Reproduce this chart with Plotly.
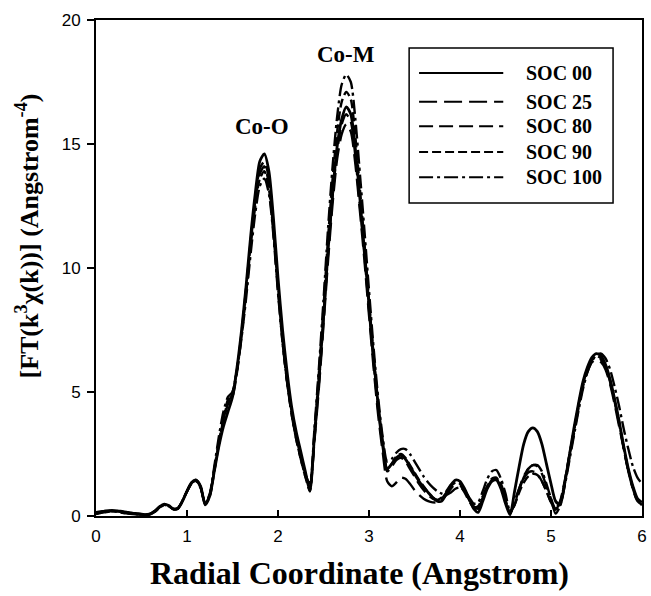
import plotly.graph_objects as go

# Radial coordinate grid (Angstrom), step 0.05
R = [round(i * 0.05, 2) for i in range(121)]

series_names = ["SOC 00", "SOC 25", "SOC 80", "SOC 90", "SOC 100"]

soc00 = [0.10,0.15,0.20,0.22,0.22,0.20,0.18,0.15,0.12,0.10,
         0.08,0.05,0.08,0.20,0.38,0.48,0.42,0.28,0.30,0.60,
         1.00,1.35,1.45,1.20,0.45,0.80,1.80,2.80,3.60,4.20,
         4.80,6.00,7.50,9.30,11.30,13.00,14.30,14.60,13.90,12.00,
         9.60,7.50,5.80,4.40,3.40,2.60,1.80,1.00,3.20,5.50,
         8.00,10.70,13.00,14.90,16.00,16.50,16.20,14.80,12.80,10.70,
         8.50,6.40,4.50,3.00,1.90,2.10,2.35,2.45,2.30,2.00,
         1.70,1.40,1.15,0.95,0.75,0.60,0.60,0.90,1.25,1.45,
         1.40,1.10,0.70,0.30,0.15,0.60,1.10,1.40,1.45,1.10,
         0.50,0.05,1.00,2.00,2.90,3.40,3.55,3.40,2.90,2.10,
         1.30,0.60,0.45,1.30,2.40,3.50,4.50,5.40,6.00,6.40,
         6.55,6.45,6.10,5.50,4.70,3.80,2.80,1.90,1.20,0.70,
         0.55]

soc25 = [0.15,0.18,0.20,0.20,0.18,0.15,0.12,0.10,0.08,0.06,
         0.05,0.05,0.10,0.22,0.38,0.45,0.40,0.28,0.32,0.62,
         1.00,1.32,1.42,1.15,0.50,0.85,1.90,3.00,3.90,4.60,
         4.90,5.90,7.40,9.20,11.10,12.80,14.00,14.30,13.60,11.70,
         9.30,7.20,5.50,4.20,3.20,2.40,1.70,1.10,3.00,5.20,
         7.70,10.30,12.60,14.40,15.40,15.80,15.50,14.20,12.30,10.30,
         8.10,6.00,4.10,2.60,1.40,1.20,1.35,1.55,1.50,1.30,
         1.05,0.85,0.70,0.60,0.55,0.55,0.65,0.85,1.10,1.30,
         1.30,1.05,0.70,0.40,0.30,0.70,1.15,1.45,1.55,1.30,
         0.70,0.10,0.50,1.10,1.60,1.90,2.05,2.00,1.70,1.20,
         0.70,0.30,0.50,1.30,2.30,3.30,4.30,5.20,5.80,6.20,
         6.30,6.20,5.90,5.30,4.50,3.60,2.70,1.80,1.10,0.60,
         0.45]

soc80 = [0.12,0.15,0.18,0.20,0.20,0.18,0.15,0.12,0.10,0.08,
         0.06,0.05,0.08,0.18,0.35,0.45,0.40,0.28,0.30,0.60,
         1.00,1.35,1.45,1.18,0.50,0.85,1.85,2.90,3.80,4.50,
         4.80,5.80,7.30,9.10,11.00,12.70,13.80,14.10,13.40,11.50,
         9.20,7.10,5.40,4.10,3.10,2.30,1.60,1.20,3.10,5.40,
         7.90,10.60,12.90,14.70,15.80,16.20,15.90,14.50,12.50,10.50,
         8.30,6.20,4.30,2.80,1.80,2.00,2.25,2.35,2.20,1.90,
         1.60,1.30,1.05,0.85,0.70,0.65,0.75,1.00,1.25,1.35,
         1.25,0.95,0.60,0.35,0.40,0.80,1.20,1.45,1.50,1.15,
         0.60,0.10,0.60,1.10,1.50,1.75,1.80,1.70,1.40,1.00,
         0.55,0.30,0.60,1.40,2.40,3.40,4.40,5.30,5.90,6.30,
         6.40,6.30,6.00,5.40,4.60,3.70,2.70,1.80,1.10,0.60,
         0.45]

soc90 = [0.10,0.14,0.18,0.20,0.20,0.18,0.16,0.13,0.10,0.08,
         0.06,0.06,0.10,0.20,0.36,0.46,0.40,0.28,0.30,0.60,
         1.00,1.33,1.43,1.15,0.48,0.80,1.80,2.90,3.90,4.70,
         5.00,5.90,7.30,9.00,10.90,12.50,13.60,13.90,13.20,11.40,
         9.10,7.00,5.40,4.10,3.10,2.30,1.60,1.00,3.30,5.80,
         8.40,11.20,13.60,15.50,16.70,17.10,16.80,15.30,13.20,11.00,
         8.70,6.50,4.50,2.90,1.90,2.10,2.40,2.50,2.35,2.05,
         1.75,1.45,1.20,0.95,0.75,0.65,0.70,0.95,1.20,1.35,
         1.30,1.00,0.65,0.35,0.30,0.75,1.20,1.50,1.55,1.20,
         0.65,0.10,0.45,0.95,1.35,1.60,1.70,1.65,1.40,1.00,
         0.55,0.25,0.55,1.35,2.40,3.40,4.40,5.30,5.90,6.30,
         6.45,6.35,6.05,5.45,4.65,3.75,2.75,1.85,1.15,0.65,
         0.50]

soc100 = [0.08,0.12,0.15,0.18,0.18,0.16,0.14,0.12,0.10,0.08,
          0.06,0.05,0.08,0.18,0.34,0.44,0.40,0.30,0.32,0.62,
          1.00,1.30,1.40,1.12,0.50,0.90,2.00,3.20,4.20,4.80,
          5.00,5.90,7.20,8.80,10.60,12.20,13.30,13.60,13.00,11.30,
          9.00,7.00,5.40,4.20,3.20,2.40,1.70,1.30,3.50,6.00,
          8.70,11.60,14.10,16.10,17.40,17.80,17.50,16.00,13.80,11.50,
          9.10,6.80,4.80,3.20,2.20,2.30,2.55,2.70,2.70,2.50,
          2.20,1.90,1.60,1.35,1.15,1.00,0.90,0.85,0.95,1.10,
          1.15,1.00,0.75,0.50,0.55,1.00,1.50,1.80,1.85,1.50,
          0.90,0.20,0.45,1.05,1.55,1.90,2.05,2.05,1.80,1.30,
          0.70,0.10,0.40,1.20,2.20,3.20,4.20,5.10,5.80,6.25,
          6.50,6.55,6.35,5.90,5.20,4.40,3.50,2.70,2.00,1.55,
          1.30]

all_series = [soc00, soc25, soc80, soc90, soc100]
dashes = ["solid", "18px,7px", "14px,6px", "9px,4px", "14px,4px,3px,4px"]
widths = [2.8, 2.4, 2.4, 2.4, 2.4]

x_ticks = [0, 1, 2, 3, 4, 5, 6]
y_ticks = [0, 5, 10, 15, 20]

peak_labels = [("Co-O", 1.82, 15.7), ("Co-M", 2.75, 18.6)]

fig = go.Figure()
for name, ys, d, w in zip(series_names, all_series, dashes, widths):
    fig.add_trace(go.Scatter(x=R, y=ys, mode="lines", name=name,
                             line=dict(color="black", width=w, dash=d,
                                       shape="spline", smoothing=0.7),
                             showlegend=False))

serif = "Liberation Serif, Times New Roman, serif"
sans = "Liberation Sans, Arial, Helvetica, sans-serif"

fig.update_layout(
    width=651, height=596,
    margin=dict(l=96, r=4, t=20, b=80),
    paper_bgcolor="white", plot_bgcolor="white",
    xaxis=dict(range=[0, 6], tickvals=x_ticks, ticks="inside", ticklen=6,
               tickwidth=1.5, tickcolor="black", showline=True, linecolor="black",
               linewidth=2, mirror=True, showgrid=False, zeroline=False,
               ticklabelstandoff=4,
               tickfont=dict(family=sans, size=17, color="black")),
    yaxis=dict(range=[0, 20], tickvals=y_ticks, ticks="outside", ticklen=7,
               tickwidth=1.5, tickcolor="black", showline=True, linecolor="black",
               linewidth=2, mirror=True, showgrid=False, zeroline=False,
               ticklabelstandoff=3,
               tickfont=dict(family=sans, size=17, color="black")),
)

for txt, px, py in peak_labels:
    fig.add_annotation(x=px, y=py, xref="x", yref="y", text="<b>%s</b>" % txt,
                       showarrow=False, xanchor="center", yanchor="middle",
                       font=dict(family=serif, size=23, color="black"))

# axis titles
fig.add_annotation(x=0.483, y=-0.115, xref="paper", yref="paper",
                   xanchor="center", yanchor="middle",
                   text="<b>Radial Coordinate (Angstrom)</b>", showarrow=False,
                   font=dict(family=serif, size=32, color="black"))
fig.add_annotation(x=-0.125, y=0.565, xref="paper", yref="paper", textangle=-90,
                   xanchor="center", yanchor="middle",
                   text="<b>[FT(k<sup>3</sup>χ(k))] (Angstrom<sup>-4</sup>)</b>",
                   showarrow=False, font=dict(family=serif, size=26, color="black"))

# legend box drawn manually
fig.add_shape(type="rect", xref="paper", yref="paper", x0=0.5735, x1=0.947,
              y0=0.631, y1=0.9435, line=dict(color="black", width=1.5),
              fillcolor="white", layer="above")
rows_y = [0.893, 0.835, 0.786, 0.734, 0.683]
for name, d, yy in zip(series_names, dashes, rows_y):
    fig.add_shape(type="line", xref="paper", yref="paper", x0=0.5917, x1=0.7459,
                  y0=yy, y1=yy, line=dict(color="black", width=2, dash=d), layer="above")
    fig.add_annotation(x=0.784, y=yy, xref="paper", yref="paper", xanchor="left",
                       yanchor="middle", text="<b>%s</b>" % name, showarrow=False,
                       font=dict(family=serif, size=20, color="black"))

fig.write_html("out.html")
